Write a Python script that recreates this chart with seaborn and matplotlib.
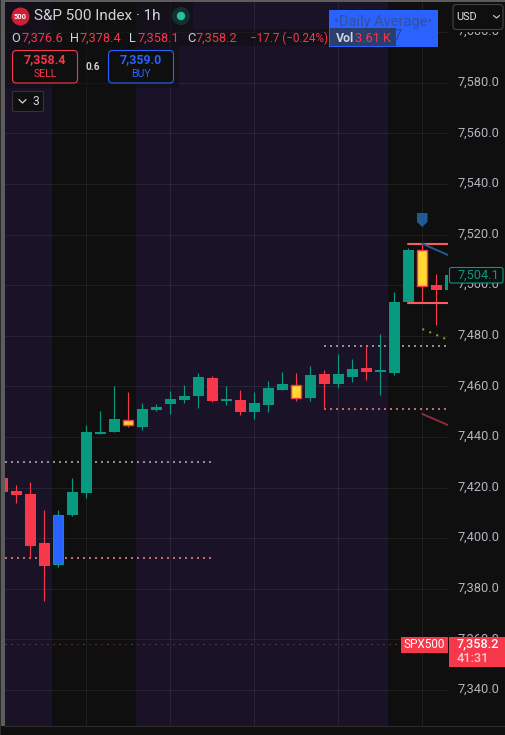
import numpy as np
import pandas as pd
import matplotlib
matplotlib.use("Agg")
import matplotlib.pyplot as plt
from matplotlib.patches import Rectangle, FancyBboxPatch, Circle, Polygon
import seaborn as sns

# ---- data ----
opens = [7423.8,7418.7,7417.5,7398.1,7389.9,7409.2,7417.9,7441.2,7442.0,7446.7,7444.0,7450.7,7453.0,7454.6,7456.2,7463.3,
         7454.2,7454.6,7449.9,7452.6,7458.6,7460.6,7455.4,7464.9,7461.0,7463.7,7467.3,7465.7,7465.3,7493.4,7513.9,7500.1,7498.1]
closes = [7418.3,7417.1,7396.9,7389.0,7409.2,7418.3,7442.0,7442.0,7447.1,7444.7,7451.1,7451.9,7455.0,7456.2,7463.7,7454.2,
          7454.6,7449.9,7453.4,7459.4,7461.0,7455.5,7464.5,7461.0,7464.9,7466.9,7465.7,7466.1,7493.4,7513.9,7499.7,7498.1,7504.0]
highs = [7423.8,7421.0,7422.2,7411.1,7411.1,7423.8,7444.7,7450.3,7460.2,7457.8,7453.4,7453.0,7458.2,7460.6,7465.3,7464.1,
         7460.2,7458.6,7457.8,7462.1,7465.7,7465.3,7468.1,7466.5,7472.8,7470.8,7476.0,7480.7,7497.3,7514.7,7516.3,7504.4,7504.0]
lows = [7418.3,7413.9,7392.2,7375.2,7388.6,7408.8,7415.9,7441.2,7442.0,7444.0,7442.8,7450.3,7449.1,7453.4,7451.5,7453.8,
        7452.6,7448.7,7447.1,7449.9,7458.6,7454.2,7454.2,7451.1,7459.4,7461.7,7462.5,7456.6,7464.5,7493.4,7493.0,7484.3,7498.1]
yellow_bars = [9, 21, 30]
blue_bars = [4]
price_ticks = [7340, 7360, 7380, 7400, 7420, 7440, 7460, 7480, 7500, 7520, 7540, 7560, 7580, 7600]
session_dark = [(3.55, 9.55), (27.55, 33.0)]
level_x = {"gray_low": (0.19, 15), "pink_low": (0.19, 15), "gray_up": (23, 31.84), "pink_up": (23, 31.84)}
level_y = {"gray_low": 7430.1, "pink_low": 7392.2, "gray_up": 7476.0, "pink_up": 7451.1}
range_hi, range_lo, last_close = 7516.4, 7493.1, 7358.2

W, H = 505, 735
BG, PURPLE = "#0f0f0f", "#1a1226"
RED, GREEN, BLUE, YEL = "#f7374a", "#089981", "#2962ff", "#ffd932"
TXT = "#b2b5be"
FONT = "Roboto"

sns.set_theme(style="dark", rc={"figure.facecolor": BG, "axes.facecolor": PURPLE, "font.family": FONT})
fig = plt.figure(figsize=(W / 100, H / 100), dpi=100, facecolor=BG)

# price pane: pixels 5..448 horizontally, 2..726 vertically
ax = fig.add_axes([5 / W, 1 - 726 / H, 443 / W, 724 / H])
ax.set_xlim(0.193, 31.836)
ax.set_ylim(7325.8, 7611.9)
ax.set_axis_off()
ax.add_patch(Rectangle((0, 0), 1, 1, transform=ax.transAxes, fc=PURPLE, ec="none", zorder=0))
for a, b in session_dark:
    ax.axvspan(a, b, fc=BG, ec="none", zorder=0.5)
for t in price_ticks:
    ax.axhline(t, color="#ffffff", alpha=0.07, lw=0.8, zorder=1)
for i in range(6, 33, 6):
    ax.axvline(i, color="#ffffff", alpha=0.07, lw=0.8, zorder=1)

df = pd.DataFrame({"i": np.arange(len(opens)), "o": opens, "c": closes, "h": highs, "l": lows})
df["up"] = df.c >= df.o

# wicks through seaborn
wicks = pd.concat([df.assign(p=df.h), df.assign(p=df.l)])
wicks["side"] = np.where(wicks.up, "up", "down")
sns.lineplot(data=wicks, x="i", y="p", units="i", estimator=None, hue="side",
             palette={"up": GREEN, "down": RED}, lw=0.85, legend=False, ax=ax, zorder=3, solid_capstyle="butt")

# bodies
for r in df.itertuples():
    lo, hi = min(r.o, r.c), max(r.o, r.c)
    base = GREEN if r.up else RED
    fc, ec, lw = base, base, 0
    w = 0.786
    if r.i in yellow_bars:
        fc, ec, lw = YEL, RED, 1.0
        w = 0.74
    if r.i in blue_bars:
        fc, ec, lw = BLUE, GREEN, 0.8
        w = 0.74
    ax.bar(r.i, max(hi - lo, 0.7), bottom=lo, width=w, color=fc, edgecolor=ec, linewidth=lw, zorder=4, clip_on=True)

# dotted levels
for k, col in [("gray_low", "#8f8f8f"), ("pink_low", "#c26a6e"), ("gray_up", "#8f8f8f"), ("pink_up", "#c26a6e")]:
    x0, x1 = level_x[k]
    sns.lineplot(x=[x0, x1], y=[level_y[k]] * 2, color=col, lw=1.44, ax=ax, zorder=2,
                 linestyle=(0, (1, 2)), estimator=None, dash_capstyle="butt")
sns.lineplot(x=[0.19, 28.5], y=[last_close] * 2, color="#c26a6e", alpha=0.8, lw=0.72, ax=ax, zorder=2,
             linestyle=(0, (1, 5)), estimator=None, dash_capstyle="butt")

# range lines and short trend segments
for y in (range_hi, range_lo):
    sns.lineplot(x=[29, 31.84], y=[y, y], color="#ff5a5f", lw=1.5, ax=ax, zorder=5, estimator=None)
sns.lineplot(x=[30, 31.84], y=[7516.4, 7511.9], color="#1f5a94", lw=1.4, ax=ax, zorder=5, estimator=None)
sns.lineplot(x=[30, 31.84], y=[7449.1, 7444.7], color="#8a2f36", lw=1.4, ax=ax, zorder=5, estimator=None)
sns.lineplot(x=[30, 31.7], y=[7482.7, 7478.7], color="#a39224", lw=1.44, ax=ax, zorder=5,
             linestyle=(0, (1, 2.8)), estimator=None, dash_capstyle="butt")

# UI overlay in pixel coordinates
ui = fig.add_axes([0, 0, 1, 1], facecolor="none")
ui.set_xlim(0, W); ui.set_ylim(H, 0); ui.set_axis_off()
def T(x, y, s, c=TXT, px=12.2, ha="left", w="normal", **k):
    ui.text(x, y, s, color=c, fontsize=px * 0.72, ha=ha, va="center", fontweight=w, family=FONT, **k)
def R(x0, y0, x1, y1, fc, ec="none", lw=0, alpha=None, z=1):
    ui.add_patch(Rectangle((x0, y0), x1 - x0, y1 - y0, fc=fc, ec=ec, lw=lw, alpha=alpha, zorder=z))
def RB(x0, y0, x1, y1, fc, ec, lw=0.8, r=3, z=2):
    ui.add_patch(FancyBboxPatch((x0 + r, y0 + r), x1 - x0 - 2 * r, y1 - y0 - 2 * r,
                                boxstyle=f"round,pad={r},rounding_size={r}", fc=fc, ec=ec, lw=lw, zorder=z))

# frame
R(0, 0, W, 2, "#5c5c5c"); R(1, 0, 5, 726, "#5c5c5c"); R(0, 0, 1, H, "#2a2a2a")
R(448, 2, W, 726, BG, z=0.5)
R(5, 726, W, 727, "#2e2e2e"); R(5, 727, W, H, BG)

# price axis labels
for t in price_ticks:
    y = 690 - (t - 7340) * 2.53
    T(457, y - 0.5, f"{t:,.1f}", TXT, 12.8)

# last-bar label and shield
RB(449.5, 267.5, 503, 283, BG, GREEN, 0.8, 2, z=3)
T(457, 275, "7,504.1", GREEN, 12.8, zorder=4)
ui.add_patch(Polygon([(417, 213), (427.5, 213), (427.5, 222), (422.2, 227), (417, 222)], fc="#1f5a94", ec="none", zorder=5))

# SPX500 tags
R(401, 636.5, 448, 653, RED, z=3)
T(424.5, 645, "SPX500", "#ffffff", 11.8, ha="center", zorder=4)
R(449, 636.5, 505, 667, RED, z=3)
T(457, 644, "7,358.2", "#ffffff", 12.8, w="medium", zorder=4)
T(457, 658, "41:31", "#ffc9ce", 12.8, w="medium", zorder=4)

# header
R(5, 2, 193, 29, BG, alpha=0.55, z=1.5)
R(5, 29, 332, 46, BG, alpha=0.55, z=1.5)
R(5, 46, 179, 88, BG, alpha=0.55, z=1.5)
ui.add_patch(Circle((20.5, 16.5), 9, fc="#cf1f36", ec="none", zorder=3))
T(20.5, 16.8, "500", "#ffffff", 7.5, ha="center", w="bold", zorder=4)
T(34, 16, "S&P 500 Index · 1h", "#d1d4dc", 15.2, zorder=4)
ui.add_patch(Circle((181, 16), 9, fc="#12302e", ec="none", zorder=3))
ui.add_patch(Circle((181, 16), 4.2, fc="#2bbfa3", ec="none", zorder=4))
T(11, 38, "O", "#d1d4dc", 12.8, zorder=4); T(21, 38, "7,376.6", RED, 12.8, zorder=4)
T(70, 38, "H", "#d1d4dc", 12.8, zorder=4); T(80, 38, "7,378.4", RED, 12.8, zorder=4)
T(129, 38, "L", "#d1d4dc", 12.8, zorder=4); T(138, 38, "7,358.1", RED, 12.8, zorder=4)
T(187, 38, "C", "#d1d4dc", 12.8, zorder=4); T(196, 38, "7,358.2", RED, 12.8, zorder=4)
T(250, 38, "−17.7 (−0.24%)", RED, 11.6, zorder=4)

RB(12.5, 50.5, 77.5, 83, BG, RED, 0.8, 4)
T(45, 60, "7,358.4", RED, 12.4, ha="center", w="bold", zorder=4)
T(45, 74, "SELL", RED, 10.5, ha="center", zorder=4)
T(93, 66.5, "0.6", "#d1d4dc", 10, ha="center", w="bold", zorder=4)
RB(108.5, 50.5, 173.5, 83, BG, BLUE, 0.8, 4)
T(141, 60, "7,359.0", BLUE, 12.4, ha="center", w="bold", zorder=4)
T(141, 74, "BUY", BLUE, 10.5, ha="center", zorder=4)
RB(12.5, 91.5, 43.5, 111.5, BG, "#333333", 0.8, 2)
ui.plot([19, 22.5, 26], [99.5, 103, 99.5], color="#d1d4dc", lw=0.9, zorder=4)
T(32, 101.5, "3", "#d1d4dc", 12, zorder=4)

# blue overlay
R(329, 10, 438, 47, BLUE, z=5)
T(383.5, 21.5, "•Daily Average•", "#3a4f94", 14.6, ha="center", zorder=6)
T(367, 35.5, "70.07", "#2f4180", 14, zorder=6)
R(330, 28, 396, 46, "#2c3a60", alpha=0.9, z=6.5)
T(336, 38, "Vol", "#d1d4dc", 12.4, w="bold", zorder=7)
T(355, 38, "3.61 K", RED, 12.8, zorder=7)

# currency selector
R(449, 2, W, 32, BG, z=6.8)
RB(453, 4.5, 503, 29.5, BG, "#444444", 0.8, 3, z=7)
T(456.5, 16.5, "USD", "#e0e3eb", 11, zorder=8)
ui.plot([493.5, 496.5, 499.5], [15.5, 18, 15.5], color="#d1d4dc", lw=0.8, zorder=8)

fig.savefig("out.png", dpi=100, facecolor=BG)
